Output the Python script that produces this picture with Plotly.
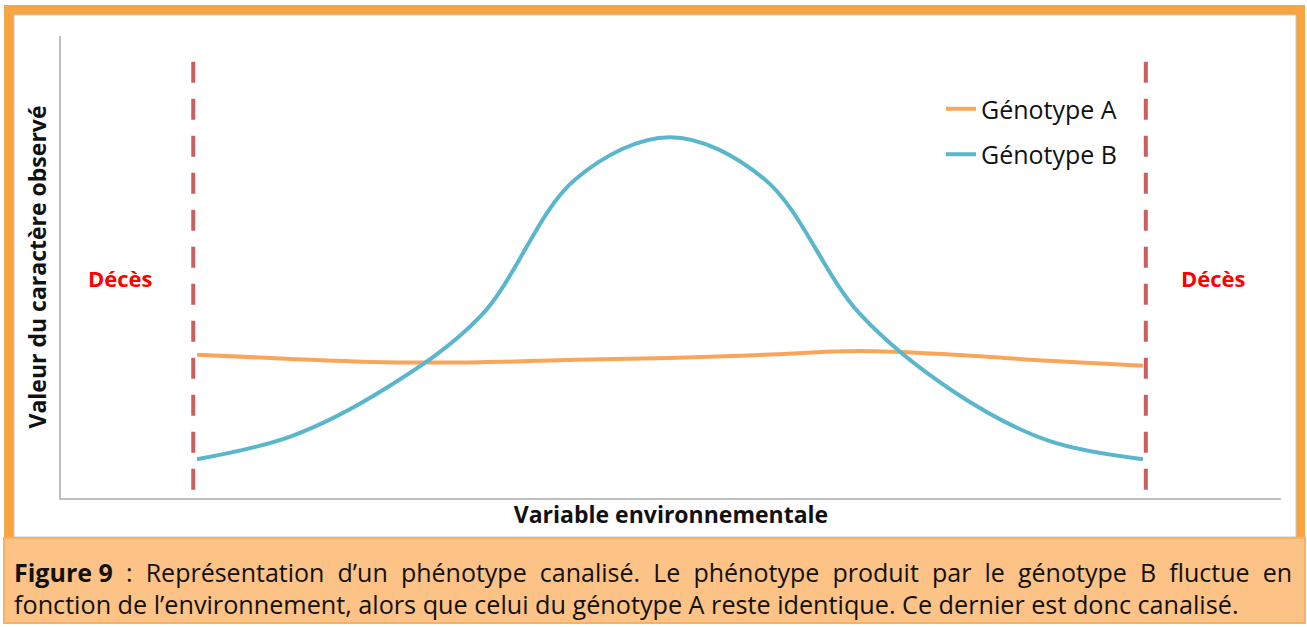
import plotly.graph_objects as go

# ---- data ----
env_steps = [0, 1, 2, 3, 4, 5, 6, 7, 8, 9, 10]
genotype_a = [31.0, 30.1, 29.4, 29.4, 29.9, 30.3, 31.0, 31.8, 31.0, 29.7, 28.6]
genotype_b = [8.4, 13.4, 23.8, 39.4, 69.0, 78.1, 69.0, 40.0, 23.0, 12.4, 8.4]
series_names = ["Génotype A", "Génotype B"]
death_limits = [-0.04, 10.03]
death_label = "Décès"
x_title = "Variable environnementale"
y_title = "Valeur du caractère observé"
caption_words1 = ["<b>Figure 9</b>", ":", "Représentation", "d’un", "phénotype", "canalisé.", "Le",
                  "phénotype", "produit", "par", "le", "génotype", "B", "fluctue", "en"]
caption_line2 = "fonction de l’environnement, alors que celui du génotype A reste identique. Ce dernier est donc canalisé."

W, H = 1307, 627
L, R, T, B = 61, 1281, 36, 498
FONT = "Open Sans"


def px(x):
    return (x - L) / (R - L)


def py(y):
    return (B - y) / (B - T)


fig = go.Figure()
fig.add_trace(go.Scatter(x=env_steps, y=genotype_a, name=series_names[0], mode="lines",
                         line=dict(color="#F9A65A", width=4, shape="spline", smoothing=1.0),
                         legendgroup="a"))
fig.add_trace(go.Scatter(x=env_steps, y=genotype_b, name=series_names[1], mode="lines",
                         line=dict(color="#5AB6CD", width=4, shape="spline", smoothing=1.0),
                         legendgroup="b"))

shapes = [
    dict(type="rect", xref="paper", yref="paper", x0=px(4), x1=px(1305), y0=py(5), y1=py(537),
         fillcolor="#F9A443", line=dict(width=0), layer="below"),
    dict(type="rect", xref="paper", yref="paper", x0=px(14), x1=px(1296), y0=py(15), y1=py(537),
         fillcolor="white", line=dict(color="#C8C8C8", width=1), layer="below"),
    dict(type="rect", xref="paper", yref="paper", x0=px(4), x1=px(1305), y0=py(538), y1=py(623),
         fillcolor="#FDC285", line=dict(color="#F9B060", width=2), layer="below"),
]
for xv in death_limits:
    shapes.append(dict(type="line", xref="x", yref="y", x0=xv, x1=xv, y0=94.4, y1=0.6,
                       line=dict(color="#CB5F5F", width=4, dash="21px,16px"), layer="above"))

SP = " \u2009\u200a"
annotations = [
    dict(text=death_label, xref="paper", yref="paper", x=px(120), y=py(278), showarrow=False,
         font=dict(family=FONT, size=22, color="#FF0000", weight="bold"), xanchor="center", yanchor="middle"),
    dict(text=death_label, xref="paper", yref="paper", x=px(1213), y=py(278), showarrow=False,
         font=dict(family=FONT, size=22, color="#FF0000", weight="bold"), xanchor="center", yanchor="middle"),
    dict(text=SP.join(caption_words1), xref="paper", yref="paper", x=px(12), y=py(572), showarrow=False,
         font=dict(family=FONT, size=25, color="#111111"), xanchor="left", yanchor="middle"),
    dict(text=caption_line2, xref="paper", yref="paper", x=px(12), y=py(604), showarrow=False,
         font=dict(family=FONT, size=25.2, color="#111111"), xanchor="left", yanchor="middle"),
]

fig.update_layout(
    width=W, height=H,
    margin=dict(l=L, r=W - R, t=T, b=H - B, pad=0),
    paper_bgcolor="white", plot_bgcolor="rgba(0,0,0,0)",
    shapes=shapes, annotations=annotations,
    font=dict(family=FONT, color="#111111"),
    legend=dict(x=px(941), y=py(86), xanchor="left", yanchor="top", bgcolor="rgba(0,0,0,0)",
                font=dict(family=FONT, size=25, color="#111111"), traceorder="grouped",
                tracegroupgap=10, itemwidth=30),
    xaxis=dict(range=[-1.438, 11.459], showgrid=False, zeroline=False, showticklabels=False,
               ticks="", showline=True, linecolor="#BFBFBF", linewidth=2,
               title=dict(text=x_title, standoff=8,
                          font=dict(family=FONT, size=23, color="#111111", weight="bold"))),
    yaxis=dict(range=[0, 100], showgrid=False, zeroline=False, showticklabels=False,
               ticks="", showline=True, linecolor="#BFBFBF", linewidth=2,
               title=dict(text=y_title, standoff=6,
                          font=dict(family=FONT, size=23, color="#111111", weight="bold"))),
)

fig.write_html("out.html", config={"displayModeBar": False},
               post_script="document.body.style.margin='0';")
